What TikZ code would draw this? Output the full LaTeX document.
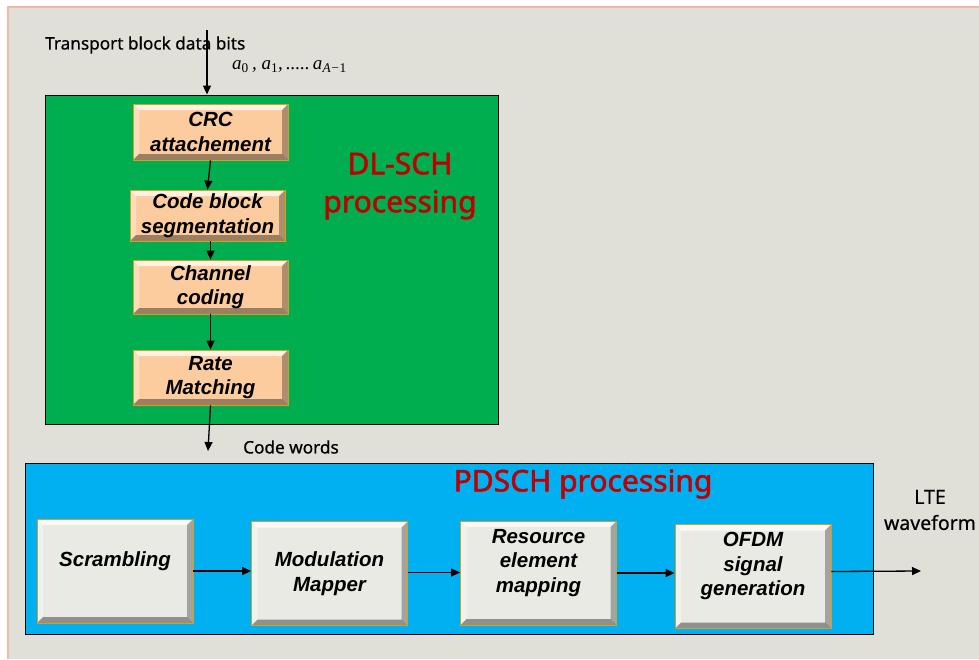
\documentclass[tikz,border=0pt]{standalone}
\usepackage{fontspec}
\setmainfont{Liberation Sans}
\newfontfamily\labelfont{Noto Sans}[FakeBold=0.6]
\newfontfamily\headfont{Noto Sans}[FakeBold=1.6]
\newfontfamily\bitsfont{Liberation Serif}
\usetikzlibrary{arrows.meta}

\definecolor{pagegray}{RGB}{224,223,216}
\definecolor{pageedge}{RGB}{244,183,168}
\definecolor{dlgreen}{RGB}{0,174,80}
\definecolor{pdblue}{RGB}{0,176,240}
\definecolor{peach}{RGB}{252,204,158}
\definecolor{lightbox}{RGB}{234,234,228}
\definecolor{edgegold}{RGB}{214,160,30}
\definecolor{titlered}{RGB}{192,0,0}

\tikzset{
  x=1pt, y=-1pt,
  bevelbox/.style={rectangle, draw=edgegold, line width=0.8pt, align=center,
    inner sep=2pt,
    font=\bfseries\itshape\fontsize{20.5}{24.5}\selectfont,
    path picture={
      \fill[white,opacity=.75] (path picture bounding box.north west) -- (path picture bounding box.north east)
        -- ([shift={(-6pt,-6pt)}]path picture bounding box.north east) -- ([shift={(6pt,-6pt)}]path picture bounding box.north west) -- cycle;
      \fill[white,opacity=.35] (path picture bounding box.north west) -- ([shift={(6pt,-6pt)}]path picture bounding box.north west)
        -- ([shift={(6pt,6pt)}]path picture bounding box.south west) -- (path picture bounding box.south west) -- cycle;
      \fill[black,opacity=.38] (path picture bounding box.south west) -- (path picture bounding box.south east)
        -- ([shift={(-6pt,6pt)}]path picture bounding box.south east) -- ([shift={(6pt,6pt)}]path picture bounding box.south west) -- cycle;
      \fill[black,opacity=.3] (path picture bounding box.north east) -- (path picture bounding box.south east)
        -- ([shift={(-6pt,6pt)}]path picture bounding box.south east) -- ([shift={(-6pt,-6pt)}]path picture bounding box.north east) -- cycle;
    }},
  stagebox/.style={bevelbox, fill=peach, minimum width=155pt},
  mapbox/.style={bevelbox, fill=lightbox, minimum width=156pt, minimum height=104pt},
  groupbox/.style={rectangle, draw=black, line width=1pt},
  flow/.style={-{Triangle[length=9pt,width=8pt]}, line width=1.3pt},
  note/.style={font=\labelfont\fontsize{17.2}{26}\selectfont, inner sep=0pt},
  heading/.style={font=\headfont\fontsize{30}{38}\selectfont, text=titlered, align=center, inner sep=0pt}
}

\begin{document}
\begin{tikzpicture}
  % page
  \useasboundingbox (0,0) rectangle (979,659);
  \fill[white] (0,0) rectangle (979,659);
  \fill[pagegray] (8,7) rectangle (979,659);
  \draw[pageedge, line width=2pt] (8,659) -- (8,7) -- (979,7);

  % group frames
  \node[groupbox, fill=dlgreen, minimum width=453pt, minimum height=329pt] (dl) at (271.5,259.5) {};
  \node[groupbox, fill=pdblue, minimum width=848pt, minimum height=171pt] (pd) at (449,548.5) {};

  \node[heading] (dltitle) at (400,186) {DL-SCH\\processing};
  \node[heading] (pdtitle) at (583,484) {PDSCH processing};

  % DL-SCH chain
  \node[stagebox, minimum height=56pt] (crc)  at (210.5,132)   {CRC\\attachement};
  \node[stagebox, minimum height=51pt] (cbs)  at (207.5,215.5) {Code block\\segmentation};
  \node[stagebox, minimum height=54pt] (chan) at (210.5,287)   {Channel\\coding};
  \node[stagebox, minimum height=55pt] (rate) at (210.5,377.5) {Rate\\Matching};

  % PDSCH chain
  \node[mapbox] (scr)  at (115,571)    {Scrambling\\\mbox{}};
  \node[mapbox] (mod)  at (329.5,573.5) {Modulation\\Mapper};
  \node[mapbox] (res)  at (538.5,573)  {Resource\\element\\mapping\\\mbox{}};
  \node[mapbox] (ofdm) at (753,576.5)  {OFDM\\signal\\generation\\\mbox{}};

  % labels
  \node[note, anchor=west] (tbits) at (45,45) {Transport block data bits};
  \node[inner sep=0pt, anchor=west, font=\bitsfont\fontsize{19}{22}\selectfont] (abits) at (232,67)
    {\itshape a\textsubscript{\upshape 0}\,, a\textsubscript{\upshape 1},\,.....\,a\textsubscript{A\textminus\upshape 1}};
  \node[note, anchor=west] (cw) at (243,447) {Code words};
  \node[note, align=center, font=\labelfont\fontsize{19.5}{26}\selectfont] (lte) at (930,510) {LTE\\waveform};

  % connectors
  \coordinate (tin) at (207,30);
  \coordinate (cwend) at (208,451);
  \coordinate (wout) at (921,571);
  \draw[flow] (tin) -- (tin |- dl.north);
  \draw[flow] (crc.south) -- (cbs.north);
  \draw[flow] (chan.north |- cbs.south) -- (chan.north);
  \draw[flow] (chan.south) -- (rate.north);
  \draw[flow] (rate.south) -- (cwend);
  \draw[flow] (scr.east) -- (scr.east -| mod.west);
  \draw[flow] ([yshift=1pt]mod.east) -- ([yshift=1pt]mod.east -| res.west);
  \draw[flow] (res.east) -- (res.east -| ofdm.west);
  \draw[flow] ([yshift=5pt]ofdm.east) -- (wout);
\end{tikzpicture}
\end{document}
